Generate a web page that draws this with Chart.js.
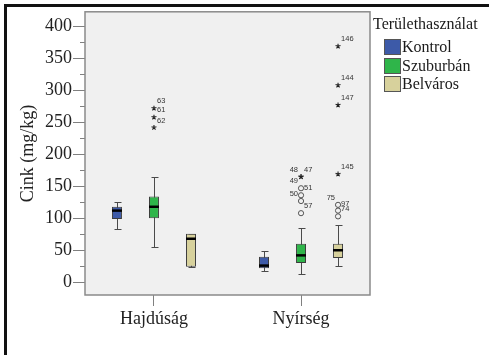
<!DOCTYPE html>
<html>
<head>
<meta charset="utf-8">
<script src="https://cdn.jsdelivr.net/npm/chart.js@4/dist/chart.umd.min.js"></script>
<style>
  html, body { margin: 0; padding: 0; background: #fff; }
  #wrap { position: relative; width: 489px; height: 355px; overflow: hidden; }
  #frame { position: absolute; left: 4px; top: 4px; right: -10px; bottom: -10px;
           border-top: 3px solid #111; border-left: 3px solid #111; pointer-events: none; }
  #legend { position: absolute; left: 373px; top: 0; font-family: "Liberation Serif", serif;
            font-size: 16px; color: #1a1a1a; }
  #legend .title { position: absolute; left: 0; top: 15px; white-space: nowrap; line-height: 18px; }
  #legend .item { position: absolute; left: 11px; white-space: nowrap; height: 16px; line-height: 16px; }
  #legend .box { display: inline-block; width: 15px; height: 14px; border: 1px solid #555;
                 vertical-align: top; margin-right: 1px; }
</style>
</head>
<body>
<div id="wrap">
  <canvas id="boxChart"></canvas>
  <div id="legend"></div>
  <div id="frame"></div>
</div>
<script>
const categories = ["Hajdúság", "Nyírség"];
const seriesNames = ["Kontrol", "Szuburbán", "Belváros"];

// min, q1, median, q3, max for each category
const kontrolBox = [[84, 99, 112, 118, 125], [18, 22, 26, 40, 49]];
const szuburbanBox = [[55, 100, 118, 134, 165], [13, 30, 42, 60, 85]];
const belvarosBox = [[24, 24, 68, 76, 76], [25, 38, 50, 60, 89]];

// [mark, value, case label] for each category ("*" extreme, "o" outlier)
const kontrolOutliers = [[], []];
const szuburbanOutliers = [
  [["*", 272, "63"], ["*", 258, "61"], ["*", 242, "62"]],
  [["*", 165, "48"], ["*", 165, "47"], ["o", 147, "49"], ["o", 136, "51"], ["o", 127, "50"], ["o", 108, "57"]]
];
const belvarosOutliers = [
  [],
  [["*", 369, "146"], ["*", 308, "144"], ["*", 277, "147"], ["*", 169, "145"],
   ["o", 121, "75"], ["o", 112, "97"], ["o", 103, "74"]]
];

const yTicks = [0, 50, 100, 150, 200, 250, 300, 350, 400];

const colors = ["#3d5aa8", "#2fb54a", "#d7d19c"];
const leftLabels = ["48", "49", "50", "75"];

const boxes = [kontrolBox, szuburbanBox, belvarosBox];
const outliers = [kontrolOutliers, szuburbanOutliers, belvarosOutliers];

// legend
const legend = document.getElementById("legend");
legend.innerHTML = '<div class="title">Területhasználat</div>' +
  seriesNames.map((n, i) =>
    `<div class="item" style="top:${39 + i * 18.5}px"><span class="box" style="background:${colors[i]}"></span>${n}</div>`
  ).join("");

const boxParts = {
  id: "boxParts",
  beforeDraw(chart) {
    const { ctx, chartArea: a } = chart;
    ctx.save();
    ctx.fillStyle = "#f0f0f0";
    ctx.fillRect(a.left, a.top, a.right - a.left, a.bottom - a.top);
    ctx.restore();
  },
  beforeDatasetsDraw(chart) {
    const { ctx } = chart;
    const y = chart.scales.y;
    ctx.save();
    ctx.strokeStyle = "#4a4a4a";
    ctx.lineWidth = 1;
    boxes.forEach((box, i) => {
      const meta = chart.getDatasetMeta(i);
      box.forEach((b, j) => {
        const x = Math.round(meta.data[j].x) + 0.5;
        const yMin = Math.round(y.getPixelForValue(b[0])) + 0.5;
        const yMax = Math.round(y.getPixelForValue(b[4])) + 0.5;
        ctx.beginPath();
        ctx.moveTo(x, yMin); ctx.lineTo(x, yMax);
        ctx.moveTo(x - 3, yMin); ctx.lineTo(x + 4, yMin);
        ctx.moveTo(x - 3, yMax); ctx.lineTo(x + 4, yMax);
        ctx.stroke();
      });
    });
    ctx.restore();
  },
  afterDatasetsDraw(chart) {
    const { ctx, chartArea: a } = chart;
    const y = chart.scales.y;
    ctx.save();
    // medians
    ctx.strokeStyle = "#000";
    ctx.lineWidth = 2.5;
    boxes.forEach((box, i) => {
      const meta = chart.getDatasetMeta(i);
      box.forEach((b, j) => {
        const bar = meta.data[j];
        const ym = y.getPixelForValue(b[2]);
        ctx.beginPath();
        ctx.moveTo(bar.x - bar.width / 2, ym);
        ctx.lineTo(bar.x + bar.width / 2, ym);
        ctx.stroke();
      });
    });
    // outliers and extremes
    ctx.font = '7.5px "Liberation Sans", sans-serif';
    ctx.textBaseline = "middle";
    outliers.forEach((group, i) => {
      const meta = chart.getDatasetMeta(i);
      group.forEach((list, j) => {
        const x = meta.data[j].x;
        list.forEach(([mark, v, label]) => {
          const yy = y.getPixelForValue(v);
          ctx.lineWidth = 1;
          if (mark === "o") {
            ctx.strokeStyle = "#555";
            ctx.beginPath();
            ctx.arc(x, yy, 2.6, 0, Math.PI * 2);
            ctx.stroke();
          } else {
            ctx.strokeStyle = "#222";
            ctx.lineWidth = 1.1;
            ctx.beginPath();
            for (let k = 0; k < 5; k++) {
              const ang = -Math.PI / 2 + k * 2 * Math.PI / 5;
              ctx.moveTo(x, yy);
              ctx.lineTo(x + 2.6 * Math.cos(ang), yy + 2.6 * Math.sin(ang));
            }
            ctx.stroke();
          }
          ctx.fillStyle = "#333";
          if (leftLabels.includes(label)) {
            ctx.textAlign = "right";
            ctx.fillText(label, x - 3, yy - 7);
          } else {
            ctx.textAlign = "left";
            ctx.fillText(label, x + 3, yy - 7);
          }
        });
      });
    });
    // minor ticks
    ctx.strokeStyle = "#808080";
    ctx.lineWidth = 1;
    for (let k = 0; k < yTicks.length - 1; k++) {
      const py = Math.round(y.getPixelForValue((yTicks[k] + yTicks[k + 1]) / 2)) + 0.5;
      ctx.beginPath();
      ctx.moveTo(a.left - 5, py);
      ctx.lineTo(a.left, py);
      ctx.stroke();
    }
    // plot frame
    ctx.strokeStyle = "#8a8a8a";
    ctx.lineWidth = 1.5;
    ctx.strokeRect(a.left, a.top, a.right - a.left, a.bottom - a.top);
    ctx.restore();
  }
};

const serif = { family: '"Liberation Serif", serif', size: 18 };

new Chart(document.getElementById("boxChart").getContext("2d"), {
  type: "bar",
  data: {
    datasets: seriesNames.map((name, i) => ({
      label: name,
      data: boxes[i].map((b, j) => ({ x: j, y: [b[1], b[3]] })),
      backgroundColor: colors[i],
      borderColor: "#3c3c3c",
      borderWidth: 1,
      borderSkipped: false,
      categoryPercentage: 0.755,
      barPercentage: 0.27
    }))
  },
  options: {
    responsive: true,
    maintainAspectRatio: false,
    animation: false,
    layout: { padding: { left: 13, top: 10, right: 119, bottom: 0 } },
    plugins: { legend: { display: false }, tooltip: { enabled: false } },
    scales: {
      x: {
        type: "linear",
        min: -0.469,
        max: 1.469,
        offset: false,
        afterBuildTicks: s => { s.ticks = categories.map((c, i) => ({ value: i })); },
        afterFit: s => { s.height = 60; },
        ticks: { callback: v => categories[v], font: serif, color: "#222", padding: 2, maxRotation: 0 },
        grid: { offset: false, drawOnChartArea: false, tickLength: 11, color: "#808080" },
        border: { display: false }
      },
      y: {
        min: -20,
        max: 423,
        afterBuildTicks: s => { s.ticks = yTicks.map(v => ({ value: v })); },
        afterFit: s => { s.width = 72; },
        ticks: { font: serif, color: "#222", padding: 1 },
        grid: { drawOnChartArea: false, tickLength: 12, color: "#808080" },
        border: { display: false },
        title: { display: true, text: "Cink (mg/kg)", font: serif, color: "#222", padding: { top: 4, bottom: 0 } }
      }
    }
  },
  plugins: [boxParts]
});
</script>
</body>
</html>
